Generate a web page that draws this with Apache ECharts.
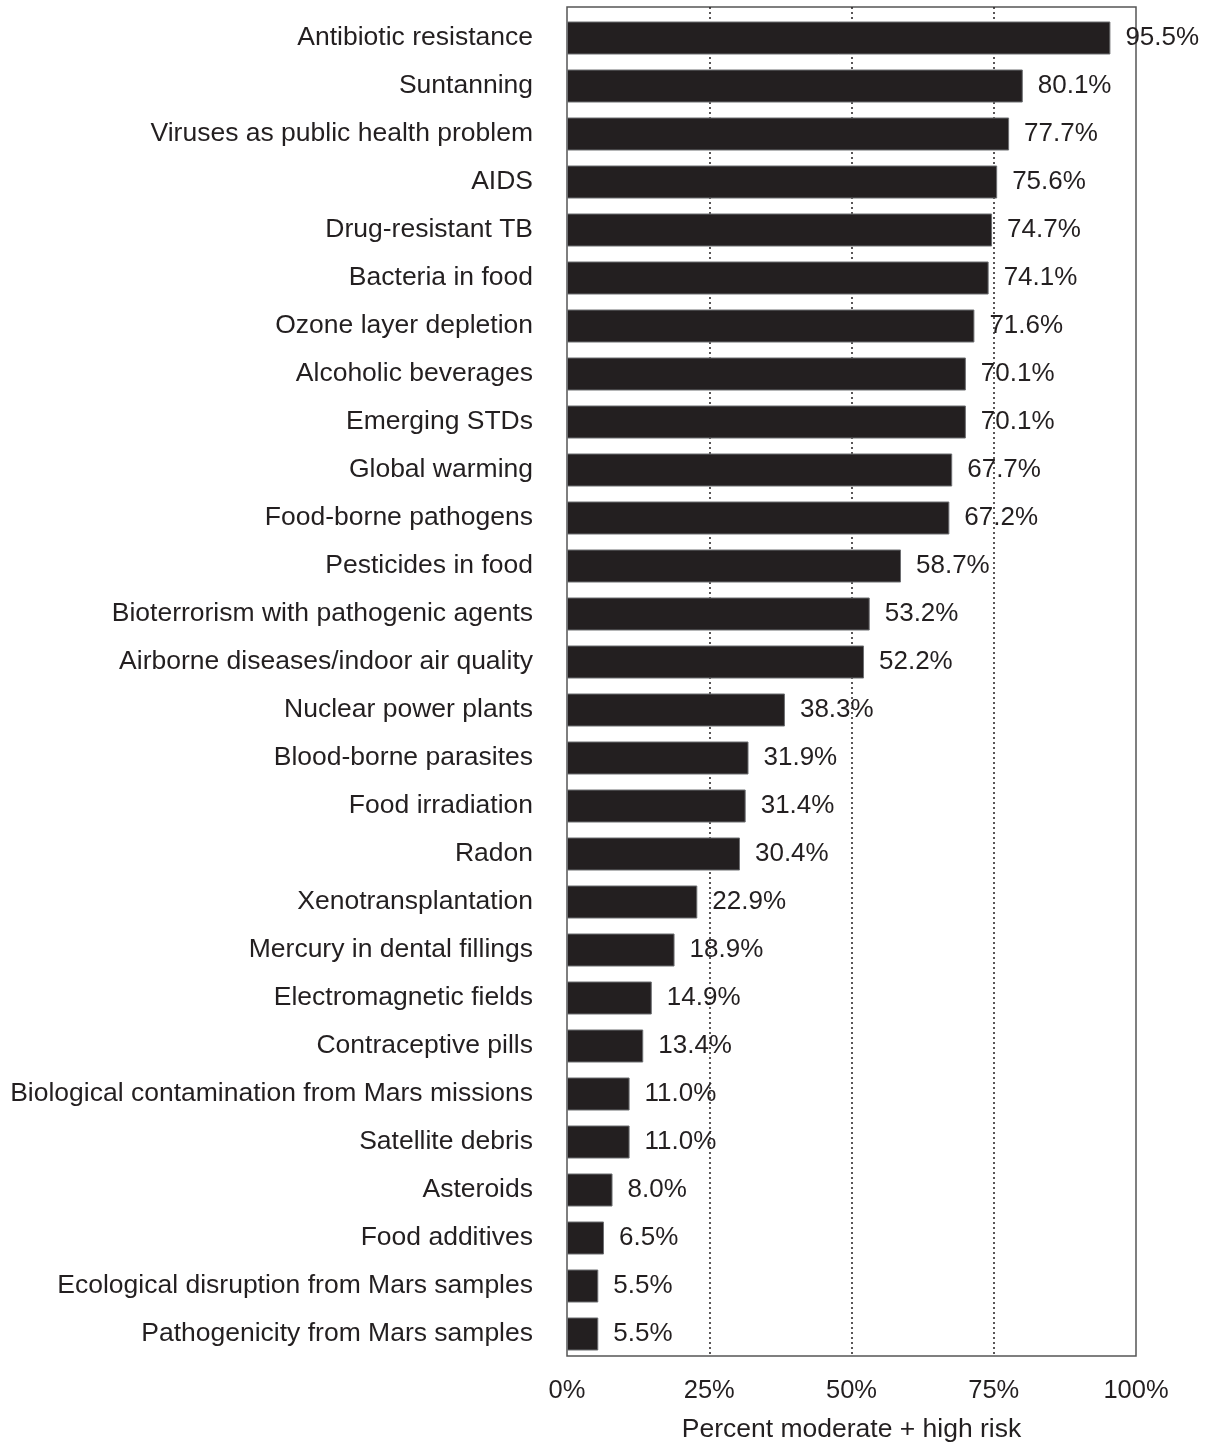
<!DOCTYPE html>
<html>
<head>
<meta charset="utf-8">
<script src="https://cdn.jsdelivr.net/npm/echarts@6/dist/echarts.min.js"></script>
<style>
  html, body { margin: 0; padding: 0; background: #ffffff; }
  #chart { width: 1212px; height: 1448px; }
</style>
</head>
<body>
<div id="chart"></div>
<script>
const categories = [
  "Antibiotic resistance",
  "Suntanning",
  "Viruses as public health problem",
  "AIDS",
  "Drug-resistant TB",
  "Bacteria in food",
  "Ozone layer depletion",
  "Alcoholic beverages",
  "Emerging STDs",
  "Global warming",
  "Food-borne pathogens",
  "Pesticides in food",
  "Bioterrorism with pathogenic agents",
  "Airborne diseases/indoor air quality",
  "Nuclear power plants",
  "Blood-borne parasites",
  "Food irradiation",
  "Radon",
  "Xenotransplantation",
  "Mercury in dental fillings",
  "Electromagnetic fields",
  "Contraceptive pills",
  "Biological contamination from Mars missions",
  "Satellite debris",
  "Asteroids",
  "Food additives",
  "Ecological disruption from Mars samples",
  "Pathogenicity from Mars samples"
];
const percentRisk = [
  95.5, 80.1, 77.7, 75.6, 74.7, 74.1, 71.6, 70.1, 70.1, 67.7,
  67.2, 58.7, 53.2, 52.2, 38.3, 31.9, 31.4, 30.4, 22.9, 18.9,
  14.9, 13.4, 11.0, 11.0, 8.0, 6.5, 5.5, 5.5
];
const xTicks = [0, 25, 50, 75, 100];
const xAxisTitle = "Percent moderate + high risk";

const FONT = "'Liberation Sans', Arial, Helvetica, sans-serif";
const INK = "#231f20";

const chart = echarts.init(document.getElementById('chart'), null, { renderer: 'canvas' });
chart.setOption({
  backgroundColor: '#ffffff',
  animation: false,
  textStyle: { fontFamily: FONT },
  grid: [
    { left: 567, right: 76, top: 7, height: 1358, show: true, borderColor: '#555555', borderWidth: 1.5, backgroundColor: 'transparent', containLabel: false },
    { left: 567, right: 76, top: 14, height: 1344, containLabel: false }
  ],
  xAxis: [
    {
      gridIndex: 0, type: 'value', min: xTicks[0], max: xTicks[xTicks.length - 1], interval: 25,
      axisLine: { show: false }, axisTick: { show: false },
      axisLabel: { formatter: '{value}%', fontSize: 25.5, color: INK, margin: 22, fontFamily: FONT },
      splitLine: { show: true, lineStyle: { color: ['transparent', INK, INK, INK, 'transparent'], type: [2, 3], width: 1.5 } },
      name: xAxisTitle, nameLocation: 'middle', nameGap: 60,
      nameTextStyle: { fontSize: 26.5, color: INK, fontFamily: FONT, verticalAlign: 'top' }
    },
    {
      gridIndex: 1, type: 'value', min: 0, max: 100, show: false
    }
  ],
  yAxis: [
    { gridIndex: 0, type: 'value', show: false, min: 0, max: 1 },
    {
      gridIndex: 1, type: 'category', data: categories, inverse: true,
      axisLine: { show: false }, axisTick: { show: false },
      axisLabel: { fontSize: 26.5, color: INK, margin: 34, fontFamily: FONT, padding: [5, 0, 0, 0] },
      splitLine: { show: false }
    }
  ],
  series: [{
    type: 'bar',
    xAxisIndex: 1, yAxisIndex: 1,
    data: percentRisk,
    barWidth: 33,
    itemStyle: { color: INK, borderColor: '#6d6e71', borderWidth: 1 },
    label: {
      show: true, position: 'right', distance: 15,
      formatter: p => p.value.toFixed(1) + '%',
      fontSize: 26, color: INK, fontFamily: FONT, padding: [5, 0, 0, 0]
    },
    z: 3
  }]
});
</script>
</body>
</html>
